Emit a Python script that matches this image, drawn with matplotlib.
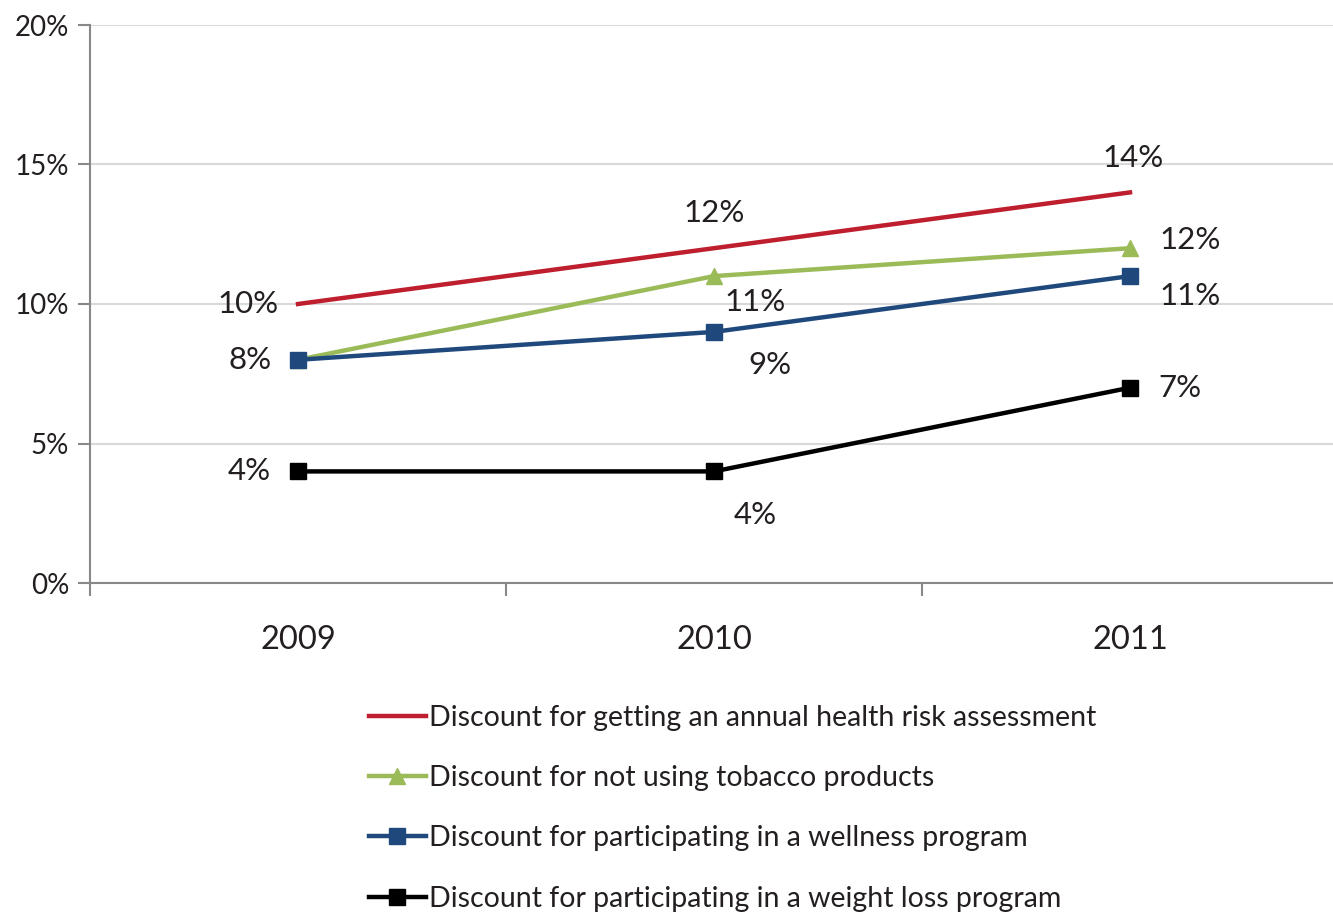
import matplotlib.pyplot as plt
import numpy as np

plt.rcParams['font.family'] = ['Lato', 'DejaVu Sans']

years = ['2009', '2010', '2011']
hra = [10, 12, 14]
tobacco = [8, 11, 12]
wellness = [8, 9, 11]
weight = [4, 4, 7]

names = ['Discount for getting an annual health risk assessment',
         'Discount for not using tobacco products',
         'Discount for participating in a wellness program',
         'Discount for participating in a weight loss program']

# label offsets (pixels) per point
offs = {
    'hra': [(-50, 0), (0, 35), (3, 34)],
    'tobacco': [None, (41, -26), (60, 8)],
    'wellness': [(-48, 0), (56, -33), (60, -20)],
    'weight': [(-49, 0), (41, -44), (50, 0)],
}

fig = plt.figure(figsize=(13.33, 9.16), dpi=100)
ax = fig.add_axes([90/1333, 1-583/916, 1248/1333, 558/916])

x = np.arange(len(years)) + 0.5
l1, = ax.plot(x, hra, color='#BE1E2D', lw=3.2, zorder=3)
l2, = ax.plot(x, tobacco, color='#9BBB59', lw=3.2, marker='^', ms=12, zorder=4)
l3, = ax.plot(x, wellness, color='#1F497D', lw=3.2, marker='s', ms=11, zorder=5)
l4, = ax.plot(x, weight, color='black', lw=3.2, marker='s', ms=11, zorder=6)

for key, vals in [('hra', hra), ('tobacco', tobacco), ('wellness', wellness), ('weight', weight)]:
    for xi, v, o in zip(x, vals, offs[key]):
        if o is None:
            continue
        ax.annotate(f'{v}%', (xi, v), xytext=o, textcoords='offset pixels',
                    ha='center', va='center', fontsize=22.5, color='#231F20')

ax.set_xlim(0, 3)
ax.set_ylim(0, 20)
ax.set_yticks([0, 5, 10, 15, 20])
ax.set_yticklabels([f'{t}%' for t in [0, 5, 10, 15, 20]], fontsize=20, color='#231F20')
ax.set_xticks([0, 1, 2, 3])
ax.set_xticklabels([])
ax.set_xticks(x, minor=True)
ax.set_xticklabels(years, minor=True, fontsize=23.5, color='#231F20')
ax.tick_params(axis='x', which='minor', length=0, pad=30)
ax.tick_params(axis='x', which='major', length=9, color='#888888', width=1.5)
ax.tick_params(axis='y', length=9, color='#888888', width=1.5, pad=6)
ax.grid(axis='y', color='#D9D9D9', lw=1.5)
ax.set_axisbelow(True)
for s in ['top', 'right']:
    ax.spines[s].set_visible(False)
for s in ['left', 'bottom']:
    ax.spines[s].set_color('#888888')
    ax.spines[s].set_linewidth(1.5)

fig.legend([l1, l2, l3, l4], names, loc='upper left', bbox_to_anchor=(369/1333, 1-705/916),
           frameon=False, fontsize=20.5, handlelength=2.0, handletextpad=0.1,
           labelspacing=1.2, borderaxespad=0, borderpad=0, labelcolor='#231F20')

fig.savefig('out.png', dpi=100)
